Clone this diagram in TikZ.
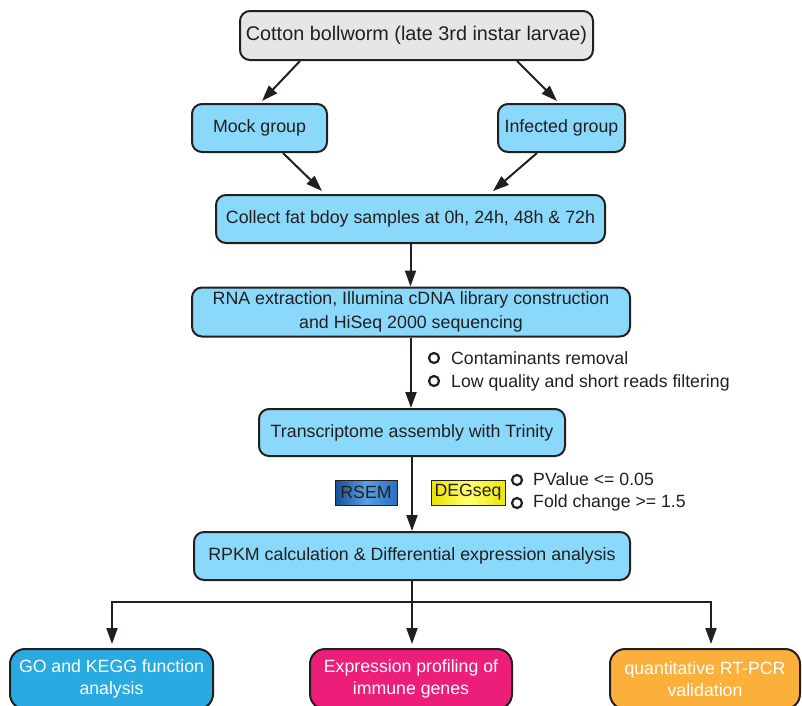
\documentclass[tikz,border=0pt]{standalone}
\usepackage{fontspec}
\setmainfont{Liberation Sans}
\usetikzlibrary{arrows.meta}
\definecolor{ink}{HTML}{231F20}
\definecolor{lblue}{HTML}{8AD8FA}
\definecolor{lgray}{HTML}{E6E6E6}
\definecolor{gocol}{HTML}{29ABE2}
\definecolor{pinkcol}{HTML}{EC1E79}
\definecolor{orcol}{HTML}{FBB03B}
\begin{document}
\begin{tikzpicture}[x=1pt,y=-1pt,
  box/.style={draw=ink,line width=2pt,rounded corners=10pt,fill=lblue,text=ink,
    font=\fontsize{17.8}{23.5}\selectfont,align=center,inner sep=0pt},
  bbox/.style={box,rounded corners=15pt,text=white,font=\fontsize{17.7}{22}\selectfont,
    minimum height=60pt},
  arr/.style={draw=ink,line width=2pt,-{Triangle[length=16pt,width=11pt]}},
  bul/.style={circle,draw=ink,line width=2.2pt,minimum size=10pt,inner sep=0pt},
  btxt/.style={anchor=base west,font=\fontsize{17.7}{20}\selectfont,text=ink,inner sep=0pt},
  tag/.style={draw=ink,line width=1pt,text=ink,font=\fontsize{17.7}{20}\selectfont,
    inner sep=0pt,minimum height=25pt}]
\useasboundingbox (0,0) rectangle (802,705);

\node[box,fill=lgray,minimum width=353pt,minimum height=49pt,font=\fontsize{19.8}{24}\selectfont] (top) at (416.5,35.5)
  {Cotton bollworm (late 3rd instar larvae)};
\node[box,minimum width=135pt,minimum height=48pt] (mock) at (259.5,128) {Mock group};
\node[box,minimum width=127pt,minimum height=48pt] (inf) at (561.5,128) {Infected group};
\node[box,minimum width=389pt,minimum height=48pt] (col) at (410.5,219)
  {Collect fat bdoy samples at 0h, 24h, 48h \& 72h};
\node[box,minimum width=438pt,minimum height=49pt] (rna) at (411,312)
  {RNA extraction, Illumina cDNA library construction\\and HiSeq 2000 sequencing};
\node[box,minimum width=306pt,minimum height=47pt] (trans) at (412,432.5)
  {Transcriptome assembly with Trinity};
\node[box,minimum width=436pt,minimum height=48pt] (rpkm) at (412,556)
  {RPKM calculation \& Differential expression analysis};

\node[bbox,fill=gocol,minimum width=203pt] (go) at (111.5,679)
  {GO and KEGG function\\analysis};
\node[bbox,fill=pinkcol,minimum width=202pt] (exp) at (411,679)
  {Expression profiling of\\immune genes};
\node[bbox,fill=orcol,minimum width=190pt] (qp) at (705,679)
  {quantitative RT-PCR\\validation};

% side notes
\node[bul] (b1) at (434,358) {};
\node[btxt] (t1) at (451,364) {Contaminants removal};
\node[bul] (b2) at (434,381) {};
\node[btxt] (t2) at (451,387) {Low quality and short reads filtering};

\node[tag,minimum width=62pt,left color={rgb,255:red,24;green,78;blue,150},
  right color={rgb,255:red,40;green,110;blue,190},
  middle color={rgb,255:red,90;green,160;blue,225}] (rsem) at (366,492.5) {RSEM};
\node[tag,minimum width=74pt,left color={rgb,255:red,235;green,225;blue,0},
  right color={rgb,255:red,240;green,230;blue,0},
  middle color={rgb,255:red,255;green,255;blue,110}] (deg) at (468,492.5) {DEGseq};

\node[bul] (b3) at (517,480) {};
\node[btxt] (t3) at (533,485) {PValue <= 0.05};
\node[bul] (b4) at (517,503) {};
\node[btxt] (t4) at (533,507) {Fold change >= 1.5};

% connectors
\draw[arr] ([xshift=-116.5pt]top.south) -- ([xshift=2.5pt,yshift=2pt]mock.north);
\draw[arr] ([xshift=100.5pt]top.south) -- ([xshift=-4.5pt,yshift=2pt]inf.north);
\draw[arr] ([xshift=23.5pt]mock.south) -- ([xshift=-88.5pt,yshift=3pt]col.north);
\draw[arr] ([xshift=-24.5pt]inf.south) -- ([xshift=82.5pt,yshift=3pt]col.north);
\draw[arr] (col.south) -- (col.south |- rna.north);
\draw[arr] (rna.south) -- (rna.south |- trans.north);
\draw[arr] (trans.south) -- (trans.south |- rpkm.north);

\coordinate (j) at ([yshift=-21pt]rpkm.south);
\coordinate (gN) at ([xshift=0.5pt,yshift=4pt]go.north);
\coordinate (eN) at ([yshift=4pt]exp.north);
\coordinate (qN) at ([xshift=6pt,yshift=4pt]qp.north);
\draw[arr] (rpkm.south) -- (rpkm.south |- eN);
\draw[arr] (j) -| (gN);
\draw[arr] (j) -| (qN);
\end{tikzpicture}
\end{document}
